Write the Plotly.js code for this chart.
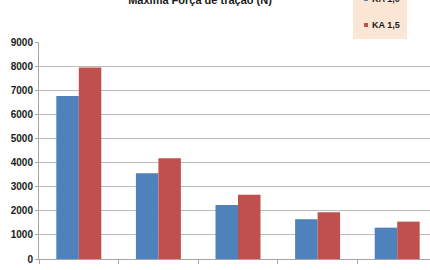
<!DOCTYPE html>
<html>
<head>
<meta charset="utf-8">
<script src="https://cdn.plot.ly/plotly-3.0.1.min.js"></script>
<style>
  html, body { margin: 0; padding: 0; overflow: hidden; background: #fff; }
  #chart { width: 448px; height: 270px; }
</style>
</head>
<body>
<div id="chart"></div>
<script>
// Maximum traction force (N) for two KA settings
const categories = ["1", "2", "3", "4", "5"];
const seriesNames = ["KA 1,0", "KA 1,5"];
const ka10 = [6760, 3560, 2240, 1650, 1300];
const ka15 = [7940, 4180, 2660, 1940, 1550];
const yTicks = [0, 1000, 2000, 3000, 4000, 5000, 6000, 7000, 8000, 9000];

const colors = ["#4F81BD", "#C0504D"];
const font = "Liberation Sans, Arial, sans-serif";

const W = 448, H = 270;
const M = { l: 39, r: 11, t: 42, b: 11 };
const plotW = W - M.l - M.r, plotH = H - M.t - M.b;
// pixel -> paper helpers for the legend box
const px = (x) => (x - M.l) / plotW;
const py = (y) => (H - M.b - y) / plotH;

const traces = [
  { type: "bar", x: categories, y: ka10, name: seriesNames[0],
    marker: { color: colors[0] }, hoverinfo: "skip" },
  { type: "bar", x: categories, y: ka15, name: seriesNames[1],
    marker: { color: colors[1] }, hoverinfo: "skip" }
];

// legend drawn as a shaded box with small square swatches
const legendRows = [-1, 25];
const shapes = [
  { type: "rect", xref: "paper", yref: "paper", layer: "above",
    x0: px(353), x1: px(407), y0: py(39), y1: py(-14),
    fillcolor: "#fbe6d6", line: { width: 0 } }
];
const annotations = [];
seriesNames.forEach((name, i) => {
  const cy = legendRows[i];
  shapes.push({ type: "rect", xref: "paper", yref: "paper", layer: "above",
    x0: px(364), x1: px(368), y0: py(cy + 2), y1: py(cy - 2),
    fillcolor: colors[i], line: { width: 0 } });
  annotations.push({ xref: "paper", yref: "paper", x: px(370), y: py(cy),
    xanchor: "left", yanchor: "middle", showarrow: false,
    text: "<b>" + name + "</b>",
    font: { family: font, size: 9, color: "#1a1a1a" } });
});

const layout = {
  width: W, height: H,
  margin: { l: M.l, r: M.r, t: M.t, b: M.b, pad: 0 },
  paper_bgcolor: "#ffffff",
  plot_bgcolor: "#ffffff",
  barmode: "group",
  bargap: 0.435,
  bargroupgap: 0,
  showlegend: false,
  font: { family: font, color: "#1a1a1a" },
  title: {
    text: "<b>Maxima Força de tração (N)</b>",
    font: { family: font, size: 11, color: "#1a1a1a" },
    xref: "container", yref: "container",
    x: 200 / W, xanchor: "center",
    y: 1.0, yanchor: "middle"
  },
  xaxis: {
    type: "category",
    range: [-0.5, 4.5],
    showticklabels: false,
    ticks: "outside", tickson: "boundaries", ticklen: 4,
    tickcolor: "#a6a6a6", tickwidth: 1,
    showline: true, linecolor: "#a6a6a6", linewidth: 1,
    showgrid: false, zeroline: false, fixedrange: true
  },
  yaxis: {
    range: [0, 9000],
    tickvals: yTicks,
    ticktext: yTicks.map(String),
    tickfont: { family: font, size: 10, color: "#1a1a1a", weight: "bold" },
    ticks: "outside", ticklen: 3, tickcolor: "#a6a6a6",
    showline: true, linecolor: "#a6a6a6", linewidth: 1,
    showgrid: true, gridcolor: "#bdbdbd", gridwidth: 1,
    zeroline: false, fixedrange: true
  },
  shapes: shapes,
  annotations: annotations
};

Plotly.newPlot("chart", traces, layout, { displayModeBar: false, staticPlot: true });
</script>
</body>
</html>
